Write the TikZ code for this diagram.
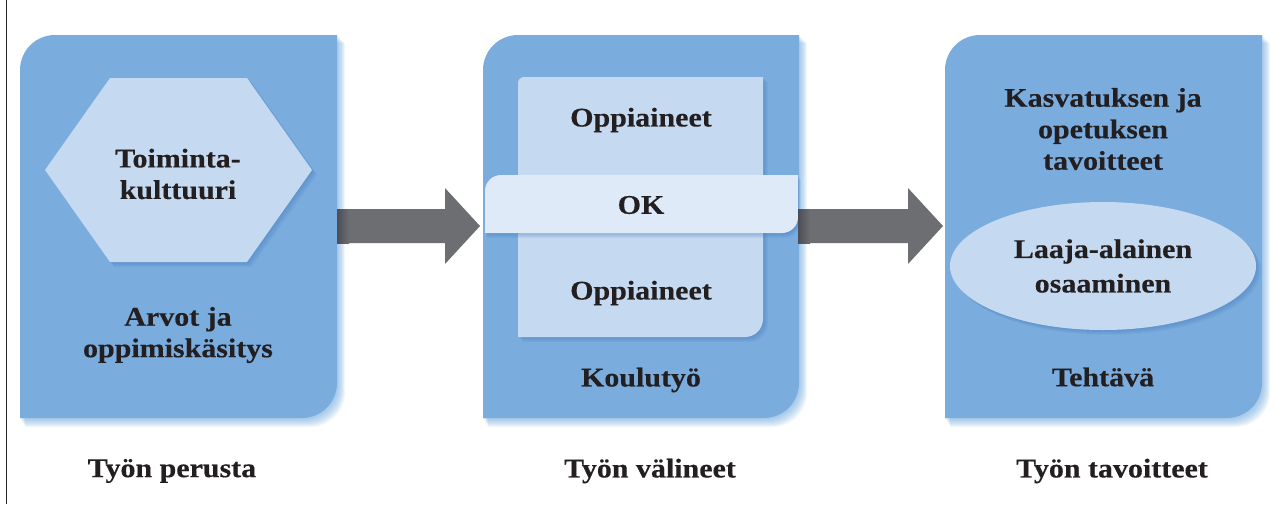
\documentclass[tikz,border=0pt]{standalone}
\usepackage{fontspec}
\setmainfont{Liberation Serif}[FakeStretch=1.11,FakeBold=0.3]
\usetikzlibrary{calc}
\definecolor{panelblue}{RGB}{122,172,222}
\definecolor{lightblue}{RGB}{197,218,240}
\definecolor{paleblue}{RGB}{222,234,247}
\definecolor{txt}{RGB}{35,31,32}
\definecolor{arrowgrey}{RGB}{109,110,113}
\definecolor{arrowdark}{RGB}{75,78,88}
\definecolor{shadeblue}{RGB}{55,110,180}
\definecolor{glowblue}{RGB}{110,170,225}
\tikzset{
  lbl/.style={font=\fontsize{27}{31.5}\selectfont\bfseries, text=txt, align=center, inner sep=0pt},
  panelfill/.style={fill=panelblue},
  innerfill/.style={fill=lightblue},
  bandfill/.style={fill=paleblue},
}
% path with rounded top-left (#5) and bottom-right (#6) corners
\newcommand\tlbrpath[6]{(#1,#4) -- (#1,#2+#5) arc[start angle=180,end angle=270,radius=#5] -- (#3,#2) -- (#3,#4-#6) arc[start angle=0,end angle=90,radius=#6] -- cycle}
\newcommand\panelglow[4]{%
  \foreach \s in {1,...,9}{\fill[glowblue,opacity=0.09] \tlbrpath{#1+\s*0.6}{#2+\s*0.9}{#3+\s*0.9}{#4+\s*1.0}{35}{35};}}
\newcommand\fatarrow[2]{%
  \fill[arrowgrey] ($(#1)+(0,-17)$) -- ($(#2)+(-35,-17)$) -- ($(#2)+(-35,-38)$) -- (#2) -- ($(#2)+(-35,38)$) -- ($(#2)+(-35,17)$) -- ($(#1)+(0,17)$) -- cycle;
  \shade[left color=arrowdark,right color=arrowgrey] ($(#1)+(0,-17)$) rectangle ($(#1)+(12,17)$);}
\begin{document}
\begin{tikzpicture}[x=1pt,y=-1pt]
\useasboundingbox (0,0) rectangle (1278,504);
\fill[white] (0,0) rectangle (1278,504);
\draw[line width=1.8pt,black!85] (6.5,0) -- (6.5,504);

% panel glows
\panelglow{20}{35}{337}{418}
\panelglow{483}{35}{799}{418}
\panelglow{945}{35}{1262}{418}
% panels
\fill[panelfill] \tlbrpath{20}{35}{337}{418}{35}{35};
\fill[panelfill] \tlbrpath{483}{35}{799}{418}{35}{35};
\fill[panelfill] \tlbrpath{945}{35}{1262}{418}{35}{35};

% panel 1: hexagon
\foreach \s in {1,...,5}{\fill[shadeblue,opacity=0.08] (45+\s,170+\s) -- (110+\s,78+\s) -- (247+\s,78+\s) -- (312+\s,170+\s) -- (247+\s,262+\s) -- (110+\s,262+\s) -- cycle;}
\fill[innerfill] (45,170) -- (110,78) -- (247,78) -- (312,170) -- (247,262) -- (110,262) -- cycle;

% panel 2: subjects box and OK band
\foreach \s in {1,...,5}{\fill[shadeblue,opacity=0.08] \tlbrpath{518+\s}{77+\s}{763+\s}{337+\s}{6}{18};}
\fill[innerfill] \tlbrpath{518}{77}{763}{337}{6}{18};
\foreach \s in {1,...,5}{\fill[shadeblue,opacity=0.08] \tlbrpath{485+\s*0.5}{175+\s}{798+\s*0.5}{233+\s}{16}{16};}
\fill[bandfill] \tlbrpath{485}{175}{798}{233}{16}{16};

% panel 3: ellipse
\foreach \s in {1,...,5}{\fill[shadeblue,opacity=0.08] (1103+\s,266+\s) ellipse [x radius=153, y radius=64];}
\fill[innerfill] (1103,266) ellipse [x radius=153, y radius=64];

% arrows
\coordinate (a1s) at (337,226);
\coordinate (a1e) at (480,226);
\coordinate (a2s) at (798,226);
\coordinate (a2e) at (943,226);
\fatarrow{a1s}{a1e}
\fatarrow{a2s}{a2e}

% texts
\node[lbl] (toim) at (178,174) {Toiminta-\\kulttuuri};
\node[lbl] (arvot) at (178,335) {Arvot ja\\oppimiskäsitys};
\node[lbl] (perusta) at (172,471) {Työn perusta};
\node[lbl] (opp1) at (641,120) {Oppiaineet};
\node[lbl] (ok) at (641,205) {OK};
\node[lbl] (opp2) at (641,293) {Oppiaineet};
\node[lbl] (koulu) at (641,380) {Koulutyö};
\node[lbl] (valineet) at (650,471) {Työn välineet};
\node[lbl] (kasv) at (1103,129) {Kasvatuksen ja\\opetuksen\\tavoitteet};
\node[lbl] (laaja) at (1103,266) {Laaja-alainen\\[3pt]osaaminen};
\node[lbl] (teht) at (1103,377) {Tehtävä};
\node[lbl] (tavoit) at (1112,471) {Työn tavoitteet};
\end{tikzpicture}
\end{document}
